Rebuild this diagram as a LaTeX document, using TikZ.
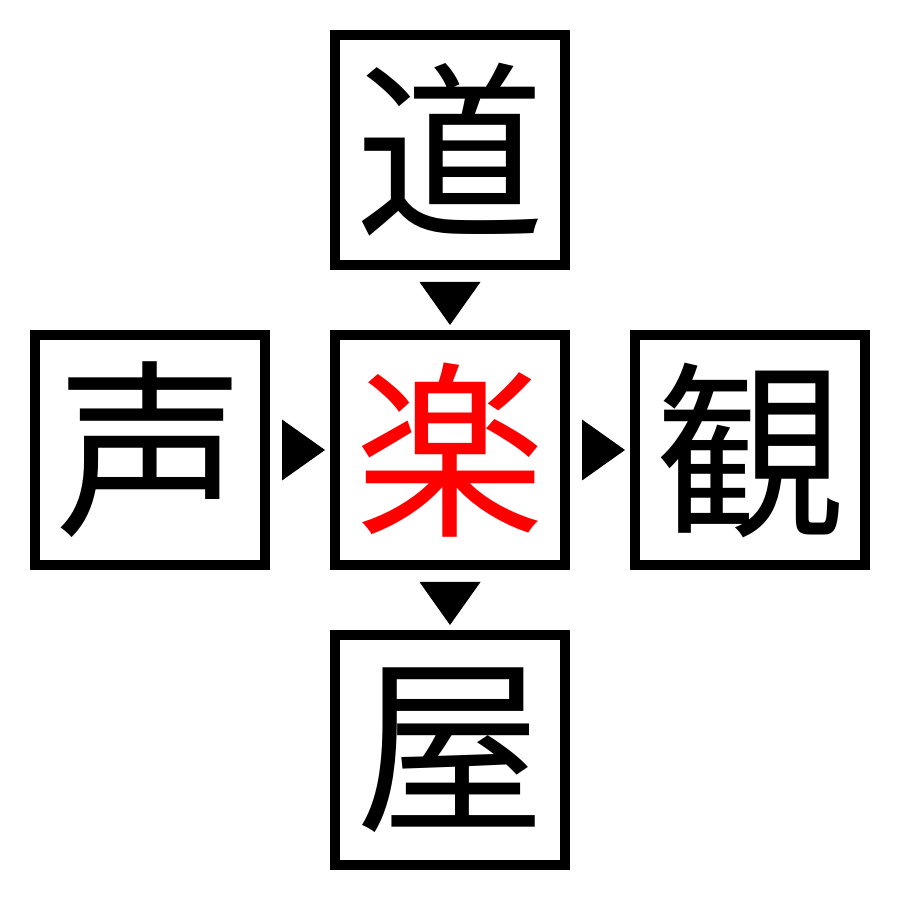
\documentclass[tikz,border=0pt]{standalone}
\usepackage{fontspec}
\newfontfamily\cjk{Noto Sans CJK JP}
\usetikzlibrary{calc,positioning}

\begin{document}
\begin{tikzpicture}[
    kanji/.style={draw, line width=0.1cm, minimum size=2.3cm, inner sep=0pt,
      font=\cjk\fontsize{54}{54}\selectfont},
    pointer/.style={fill=black}]
\useasboundingbox (0,0) rectangle (9,9);
% centre and its four neighbours
\node [kanji, text=red] (raku) at (4.5,4.5) {楽};
\node [kanji] (dou) at (4.5,7.5) {道};
\node [kanji] (sei) at (1.5,4.5) {声};
\node [kanji] (kan) at (7.5,4.5) {観};
\node [kanji] (oku) at (4.5,1.5) {屋};
% pointers
\fill [pointer] ($(sei.east)+(0.12,0.305)$) -- ($(sei.east)+(0.12,-0.305)$) -- ($(raku.west)+(-0.05,0)$) -- cycle;
\fill [pointer] ($(raku.east)+(0.12,0.305)$) -- ($(raku.east)+(0.12,-0.305)$) -- ($(kan.west)+(-0.05,0)$) -- cycle;
\fill [pointer] ($(dou.south)+(-0.305,-0.12)$) -- ($(dou.south)+(0.305,-0.12)$) -- ($(raku.north)+(0,0.05)$) -- cycle;
\fill [pointer] ($(raku.south)+(-0.305,-0.12)$) -- ($(raku.south)+(0.305,-0.12)$) -- ($(oku.north)+(0,0.05)$) -- cycle;
\end{tikzpicture}
\end{document}
